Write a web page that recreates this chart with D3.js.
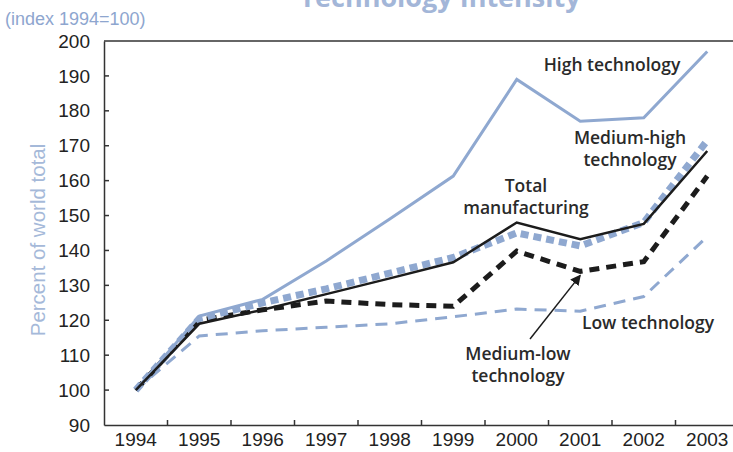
<!DOCTYPE html>
<html>
<head>
<meta charset="utf-8">
<script src="https://cdn.jsdelivr.net/npm/d3@7"></script>
<style>
  body { margin: 0; background: #fff; }
  svg { display: block; }
</style>
</head>
<body>
<div id="chart"></div>
<script>
// chart data
const years = ["1994", "1995", "1996", "1997", "1998", "1999", "2000", "2001", "2002", "2003"];
const highTech = [100, 121.2, 126, 137, 149, 161.3, 189, 177, 178, 197];
const mediumHigh = [100, 120.5, 125, 129, 133.5, 138, 145, 141.3, 148, 171.5];
const totalManuf = [100, 119, 123, 127.5, 132, 136.6, 148, 143.2, 147.6, 168.5];
const mediumLow = [100, 120, 123, 125.5, 124.5, 124, 139.8, 134, 136.8, 161.3];
const lowTech = [100, 115.5, 117, 118, 119, 121, 123.2, 122.6, 126.8, 144];
const yTicks = [90, 100, 110, 120, 130, 140, 150, 160, 170, 180, 190, 200];

const width = 733, height = 452;
const plotLeft = 104, plotRight = 739, plotTop = 41, plotBottom = 425;

const blue = "#8fa8d0";
const dark = "#1c1c1c";

const svg = d3.select("#chart").append("svg")
  .attr("width", width)
  .attr("height", height);

const x = d3.scaleBand().domain(years).range([plotLeft, plotRight]).padding(0);
const y = d3.scaleLinear().domain([90, 200]).range([plotBottom, plotTop]);
const cx = d => x(d) + x.bandwidth() / 2;

// title (cut off at the top in the original)
svg.append("text")
  .attr("x", 440).attr("y", 7)
  .attr("text-anchor", "middle")
  .style("font-family", "'Open Sans', sans-serif")
  .style("font-weight", "bold")
  .style("font-size", "27px")
  .style("fill", "#a3b6d8")
  .text("Technology Intensity");

svg.append("text")
  .attr("x", 5).attr("y", 25)
  .style("font-family", "'Liberation Sans', sans-serif")
  .style("font-size", "18px")
  .style("fill", "#8ea6cf")
  .text("(index 1994=100)");

svg.append("text")
  .attr("transform", `translate(45, ${(plotTop + plotBottom) / 2 + 7}) rotate(-90)`)
  .attr("text-anchor", "middle")
  .style("font-family", "'Liberation Sans', sans-serif")
  .style("font-size", "20.5px")
  .style("fill", "#a5b9d9")
  .text("Percent of world total");

// frame
const axisCol = "#333";
svg.append("line").attr("x1", plotLeft).attr("x2", plotRight).attr("y1", plotTop).attr("y2", plotTop)
  .attr("stroke", axisCol).attr("stroke-width", 1.5);

// y axis
const yAxis = svg.append("g")
  .attr("transform", `translate(${plotLeft},0)`)
  .call(d3.axisLeft(y).tickValues(yTicks).tickSize(0).tickPadding(14));
yAxis.select(".domain").attr("stroke", axisCol).attr("stroke-width", 1.5);
yAxis.selectAll("text")
  .style("font-family", "'Liberation Sans', sans-serif")
  .style("font-size", "19px")
  .style("fill", "#222");
svg.append("g").selectAll("line")
  .data(yTicks.filter(t => t > 90 && t < 200))
  .join("line")
  .attr("x1", plotLeft).attr("x2", plotLeft + 5)
  .attr("y1", d => y(d)).attr("y2", d => y(d))
  .attr("stroke", axisCol).attr("stroke-width", 1.5);

// x axis
const xAxis = svg.append("g")
  .attr("transform", `translate(0,${plotBottom})`)
  .call(d3.axisBottom(x).tickSize(0).tickPadding(8));
xAxis.select(".domain").attr("stroke", axisCol).attr("stroke-width", 1.5);
xAxis.selectAll("text")
  .style("font-family", "'Liberation Sans', sans-serif")
  .style("font-size", "19px")
  .style("fill", "#222");
svg.append("g").selectAll("line")
  .data(years.slice(1))
  .join("line")
  .attr("x1", d => x(d)).attr("x2", d => x(d))
  .attr("y1", plotBottom).attr("y2", plotBottom - 5)
  .attr("stroke", axisCol).attr("stroke-width", 1.5);

// lines
const line = d3.line()
  .x(d => cx(d[0]))
  .y(d => y(d[1]));

const series = [
  { values: lowTech, color: blue, width: 3, dash: "12,8" },
  { values: mediumLow, color: dark, width: 5, dash: "10,7" },
  { values: mediumHigh, color: blue, width: 7, dash: "8,5" },
  { values: highTech, color: blue, width: 3, dash: null },
  { values: totalManuf, color: dark, width: 2.5, dash: null }
];

svg.append("g").selectAll("path")
  .data(series)
  .join("path")
  .attr("d", s => line(years.map((yr, i) => [yr, s.values[i]])))
  .attr("fill", "none")
  .attr("stroke", s => s.color)
  .attr("stroke-width", s => s.width)
  .attr("stroke-dasharray", s => s.dash)
  .attr("stroke-linejoin", "miter");

// labels
const labels = [
  { lines: ["High technology"], x: 612, y: 71 },
  { lines: ["Medium-high", "technology"], x: 630, y: 144 },
  { lines: ["Total", "manufacturing"], x: 526, y: 192 },
  { lines: ["Low technology"], x: 648, y: 329 },
  { lines: ["Medium-low", "technology"], x: 518, y: 360 }
];
labels.forEach(l => {
  const t = svg.append("text")
    .attr("text-anchor", "middle")
    .style("font-family", "'Open Sans', sans-serif")
    .style("font-size", "17.5px")
    .style("font-weight", "600")
    .style("fill", "#2a2a2a");
  l.lines.forEach((s, i) => {
    t.append("tspan").attr("x", l.x).attr("y", l.y + i * 22).text(s);
  });
});

// arrow to medium-low line
svg.append("defs").append("marker")
  .attr("id", "arrow")
  .attr("viewBox", "0 0 10 10")
  .attr("refX", 9).attr("refY", 5)
  .attr("markerWidth", 7).attr("markerHeight", 7)
  .attr("orient", "auto")
  .append("path")
  .attr("d", "M0,0L10,5L0,10z")
  .attr("fill", dark);

svg.append("line")
  .attr("x1", 530).attr("y1", 339)
  .attr("x2", cx("2001")).attr("y2", y(mediumLow[7]) + 4)
  .attr("stroke", dark).attr("stroke-width", 1.5)
  .attr("marker-end", "url(#arrow)");
</script>
</body>
</html>
